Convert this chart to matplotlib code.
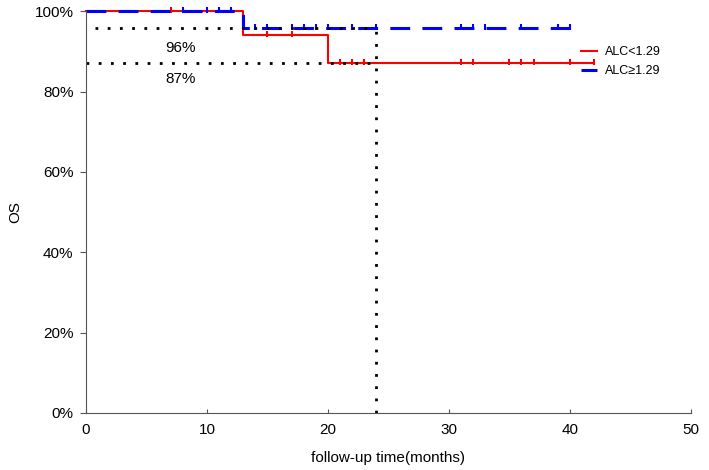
import numpy as np
import matplotlib
matplotlib.use("Agg")
import matplotlib.pyplot as plt

plt.rcParams['font.family'] = ['Liberation Sans', 'DejaVu Sans']

# Kaplan-Meier steps
red_times = [0, 13, 20, 42]
red_surv = [1.00, 0.94, 0.87, 0.87]
red_censor = [7, 15, 17, 21, 22, 23, 31, 32, 35, 36, 37, 40, 42]

blue_times = [0, 13, 40.2]
blue_surv = [1.00, 0.957, 0.957]
blue_censor = [8, 10, 11, 12, 14, 15, 17, 18, 19, 20, 22, 24, 31, 32, 33, 36, 39, 40]

ref_time = 24
ref_levels = [0.957, 0.87]
ref_labels = ["96%", "87%"]


def surv_at(times, surv, t):
    idx = np.searchsorted(times, t, side='right') - 1
    idx = min(idx, len(surv) - 1)
    return surv[idx]


fig = plt.figure(figsize=(7.09, 4.70), dpi=100)
ax = fig.add_axes([0.1213, 0.1213, 0.853, 0.855])

ax.step(red_times, red_surv, where='post', color='#ff0000', lw=1.5, label='ALC<1.29',
        clip_on=False)
ax.plot(red_censor, [surv_at(red_times, red_surv, t) + 0.004 for t in red_censor], ls='none',
        marker='|', ms=4, mew=1.5, color='#ff0000', clip_on=False)
ax.step(blue_times, blue_surv, where='post', color='#0000ff', lw=2.2,
        dashes=(6.5, 4), label='ALC\u22651.29', clip_on=False)
ax.plot(blue_censor, [surv_at(blue_times, blue_surv, t) + 0.004 for t in blue_censor], ls='none',
        marker='|', ms=4, mew=1.5, color='#0000ff', clip_on=False)

# reference dotted lines
dot = (0, (1, 3.4))
ax.plot([0.75, ref_time], [ref_levels[0]] * 2, color='black', ls=dot, lw=2)
ax.plot([0, ref_time], [ref_levels[1]] * 2, color='black', ls=dot, lw=2)
ax.plot([ref_time, ref_time], [0, ref_levels[0]], color='black', ls=dot, lw=2)
ax.text(7.8, 0.908, ref_labels[0], fontsize=11, ha='center', va='center')
ax.text(7.8, 0.831, ref_labels[1], fontsize=11, ha='center', va='center')

ax.set_xlim(0, 50)
ax.set_ylim(0, 1.0)
ax.set_xticks([0, 10, 20, 30, 40, 50])
ax.set_yticks([0, 0.2, 0.4, 0.6, 0.8, 1.0])
ax.set_yticklabels(['0%', '20%', '40%', '60%', '80%', '100%'])
ax.tick_params(axis='x', labelsize=11, length=3, direction='in', pad=7, color='#555555')
ax.tick_params(axis='y', labelsize=11, length=4, direction='out', pad=5, color='#555555')
ax.spines['top'].set_visible(False)
ax.spines['right'].set_visible(False)
ax.spines['left'].set_color('#555555')
ax.spines['bottom'].set_color('#555555')
ax.set_xlabel('follow-up time(months)', fontsize=11, labelpad=10)
ax.set_ylabel('OS', fontsize=11, labelpad=9)

ax.legend(loc='upper left', bbox_to_anchor=(581 / 709, 1 - 46 / 470),
          bbox_transform=fig.transFigure, frameon=False, fontsize=9,
          borderpad=0, borderaxespad=0,
          handlelength=1.3, handletextpad=0.65, labelspacing=0.55)

fig.savefig('out.png', dpi=100)
